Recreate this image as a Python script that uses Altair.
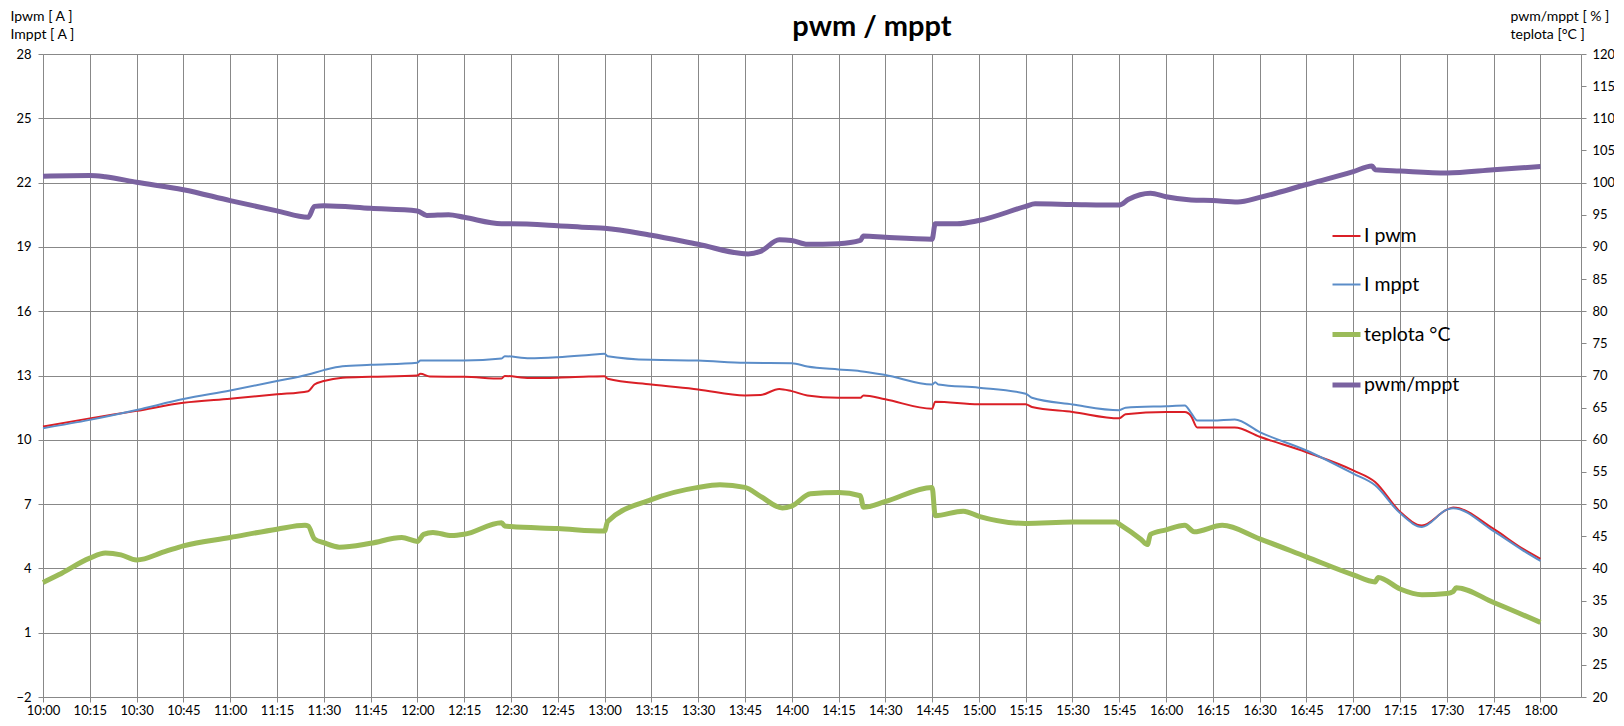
import altair as alt
import pandas as pd

# ---------------- data ----------------
series_names = ["I pwm", "I mppt", "teplota °C", "pwm/mppt"]
series_colors = ["#DA1F26", "#5B8DC8", "#9BBB59", "#7A62A0"]
series_widths = [2, 2, 5, 5]

ipwm_times = ["10:00", "10:15", "10:30", "10:45", "11:00", "11:15", "11:25", "11:27", "11:30", "11:36",
              "11:45", "12:00", "12:01", "12:04", "12:15", "12:27", "12:28", "12:36", "12:45", "12:55",
              "13:00", "13:01", "13:15", "13:30", "13:45", "13:50", "13:56", "14:00", "14:05", "14:15",
              "14:22", "14:23", "14:30", "14:45", "14:46", "15:00", "15:15", "15:17", "15:30", "15:45",
              "15:47", "16:00", "16:06", "16:08", "16:10", "16:15", "16:22", "16:30", "16:45", "17:00",
              "17:07", "17:15", "17:22", "17:30", "17:32", "17:45", "17:54", "18:00"]
ipwm_vals = [10.62, 11.0, 11.35, 11.73, 11.92, 12.12, 12.27, 12.58, 12.74, 12.9,
             12.94, 13.0, 13.08, 12.95, 12.94, 12.86, 12.98, 12.88, 12.9, 12.95,
             12.97, 12.85, 12.58, 12.35, 12.07, 12.09, 12.37, 12.27, 12.07, 11.96,
             11.96, 12.07, 11.89, 11.45, 11.78, 11.66, 11.66, 11.53, 11.3, 11.0,
             11.19, 11.3, 11.3, 11.11, 10.57, 10.57, 10.57, 10.14, 9.42, 8.57,
             8.03, 6.64, 6.0, 6.74, 6.84, 5.84, 4.95, 4.45]

imppt_times = ["10:00", "10:15", "10:30", "10:45", "11:00", "11:15", "11:25", "11:30", "11:36", "11:45",
               "12:00", "12:01", "12:15", "12:27", "12:28", "12:36", "12:45", "12:55", "13:00", "13:01",
               "13:15", "13:30", "13:45", "14:00", "14:05", "14:15", "14:22", "14:30", "14:45", "14:46",
               "14:47", "15:00", "15:15", "15:17", "15:30", "15:45", "15:47", "16:00", "16:06", "16:08",
               "16:10", "16:15", "16:22", "16:30", "16:45", "17:00", "17:07", "17:15", "17:22", "17:30",
               "17:32", "17:45", "17:54", "18:00"]
imppt_vals = [10.54, 10.93, 11.39, 11.9, 12.3, 12.74, 13.05, 13.25, 13.43, 13.5,
              13.6, 13.7, 13.7, 13.79, 13.9, 13.8, 13.85, 13.96, 14.02, 13.9,
              13.73, 13.7, 13.59, 13.57, 13.42, 13.28, 13.2, 13.02, 12.58, 12.69,
              12.58, 12.43, 12.15, 11.96, 11.65, 11.38, 11.5, 11.57, 11.6, 11.26,
              10.9, 10.9, 10.95, 10.36, 9.5, 8.42, 7.88, 6.58, 5.93, 6.74,
              6.81, 5.74, 4.88, 4.35]

temp_times = ["10:00", "10:05", "10:15", "10:20", "10:25", "10:30", "10:39", "10:45", "11:00", "11:15",
              "11:24", "11:25", "11:27", "11:30", "11:35", "11:45", "11:55", "12:00", "12:02", "12:05",
              "12:11", "12:15", "12:27", "12:28", "12:30", "12:45", "13:00", "13:01", "13:15", "13:30",
              "13:37", "13:45", "13:50", "13:57", "14:00", "14:06", "14:15", "14:22", "14:23", "14:30",
              "14:45", "14:46", "14:55", "15:00", "15:15", "15:30", "15:44", "15:45", "15:52", "15:54",
              "15:55", "16:00", "16:06", "16:09", "16:18", "16:30", "16:45", "17:00", "17:07", "17:08",
              "17:15", "17:22", "17:30", "17:32", "17:33", "17:45", "18:00"]
temp_vals = [37.8, 39.0, 41.6, 42.4, 42.1, 41.3, 42.6, 43.5, 44.8, 46.1,
             46.7, 46.6, 44.6, 44.0, 43.3, 43.9, 44.8, 44.2, 45.3, 45.6,
             45.1, 45.3, 47.1, 46.6, 46.5, 46.2, 45.8, 47.3, 50.7, 52.6,
             53.0, 52.6, 51.2, 49.4, 49.7, 51.6, 51.8, 51.3, 49.5, 50.4,
             52.6, 48.2, 48.9, 48.1, 47.0, 47.2, 47.2, 46.9, 44.5, 43.7,
             45.3, 46.0, 46.7, 45.7, 46.7, 44.6, 41.8, 39.0, 37.9, 38.6,
             36.8, 35.9, 36.1, 36.4, 37.0, 34.7, 31.6]

ratio_times = ["10:00", "10:15", "10:20", "10:30", "10:45", "11:00", "11:15", "11:25", "11:27", "11:30",
               "11:45", "12:00", "12:03", "12:10", "12:15", "12:27", "12:30", "12:45", "12:55", "13:00",
               "13:15", "13:30", "13:46", "13:50", "13:56", "14:00", "14:05", "14:15", "14:22", "14:23",
               "14:30", "14:45", "14:46", "14:53", "15:00", "15:15", "15:18", "15:30", "15:45", "15:48",
               "15:55", "16:00", "16:08", "16:15", "16:23", "16:30", "16:45", "17:00", "17:06", "17:07",
               "17:15", "17:30", "17:45", "18:00"]
ratio_vals = [101.0, 101.1, 100.9, 100.05, 98.9, 97.2, 95.6, 94.6, 96.3, 96.4,
              96.0, 95.6, 94.9, 95.0, 94.6, 93.6, 93.6, 93.3, 93.0, 92.9,
              91.8, 90.4, 88.9, 89.3, 91.1, 91.0, 90.4, 90.5, 91.0, 91.7,
              91.5, 91.2, 93.6, 93.6, 94.1, 96.3, 96.7, 96.6, 96.5, 97.4,
              98.35, 97.8, 97.3, 97.2, 97.0, 97.7, 99.7, 101.7, 102.6, 102.0,
              101.8, 101.5, 102.0, 102.5]

x_tick_minutes = list(range(0, 481, 15))
left_ticks = list(range(-2, 29, 3))
right_ticks = list(range(20, 121, 5))


def to_min(t):
    h, m = t.split(":")
    return (int(h) - 10) * 60 + int(m)


rows = []
for name, times, vals in [("I pwm", ipwm_times, ipwm_vals),
                          ("I mppt", imppt_times, imppt_vals),
                          ("teplota °C", temp_times, temp_vals),
                          ("pwm/mppt", ratio_times, ratio_vals)]:
    for t, v in zip(times, vals):
        rows.append({"series": name, "t": to_min(t), "v": v})
df = pd.DataFrame(rows)

GRID = "#888888"
FONT = "Lato"

x_axis = alt.Axis(
    values=x_tick_minutes,
    labelExpr="(10 + floor(datum.value / 60)) + ':' + (datum.value % 60 == 0 ? '00' : datum.value % 60)",
    grid=True, title=None, labelPadding=2, labelFlush=False, labelOverlap=False,
)

legend = alt.Legend(
    title=None, orient="none", legendX=1287, legendY=167,
    symbolType="stroke", symbolSize=784, rowPadding=23.5, labelOffset=1,
    labelFontSize=19.5, labelFont=FONT, labelColor="#000000", padding=0,
    direction="vertical",
)

color = alt.Color(
    "series:N",
    scale=alt.Scale(type="ordinal", domain=series_names, range=series_colors),
    legend=legend,
)
stroke_w = alt.StrokeWidth(
    "series:N",
    scale=alt.Scale(type="ordinal", domain=series_names, range=series_widths),
    legend=legend,
)

base = alt.Chart(df).mark_line(interpolate="monotone").encode(
    x=alt.X("t:Q", scale=alt.Scale(domain=[0, 493], nice=False, zero=False), axis=x_axis),
    color=color,
    strokeWidth=stroke_w,
)

left = base.transform_filter(
    alt.FieldOneOfPredicate(field="series", oneOf=["I pwm", "I mppt"])
).encode(
    y=alt.Y("v:Q", scale=alt.Scale(domain=[-2, 28], nice=False, zero=False),
            axis=alt.Axis(values=left_ticks, grid=True, orient="left", labelPadding=7,
                          title=["Ipwm [ A ]", "Imppt [ A ]"], titleAngle=0, titleAlign="left",
                          titleBaseline="top", titleX=-33, titleY=-45, titleLineHeight=18))
)

right = base.transform_filter(
    alt.FieldOneOfPredicate(field="series", oneOf=["teplota °C", "pwm/mppt"])
).encode(
    y=alt.Y("v:Q", scale=alt.Scale(domain=[20, 120], nice=False, zero=False),
            axis=alt.Axis(values=right_ticks, grid=False, orient="right", labelPadding=6,
                          title=["pwm/mppt [ % ]", "teplota [°C ]"], titleAngle=0, titleAlign="left",
                          titleBaseline="top", titleX=-71, titleY=-45, titleLineHeight=18))
)

chart = alt.layer(left, right).resolve_scale(y="independent").properties(
    width=1538,
    height=643,
    title=alt.TitleParams("pwm / mppt", fontSize=29, font=FONT, fontWeight="bold",
                          anchor="middle", frame="group", dx=60, dy=56, offset=0,
                          baseline="alphabetic", color="#000000"),
    autosize=alt.AutoSizeParams(type="none"),
    padding={"left": 35, "top": 46, "right": 33, "bottom": 21},
    background="#ffffff",
).configure_view(
    strokeWidth=0
).configure_axis(
    labelFont=FONT, labelFontSize=13, labelColor="#000000",
    titleFont=FONT, titleFontSize=14, titleFontWeight="normal", titleColor="#000000",
    gridColor=GRID, gridOpacity=1, gridWidth=1,
    tickColor=GRID, tickSize=5, domainColor=GRID, domainWidth=1,
)

chart.save("out.html", embed_options={"renderer": "svg", "actions": False})
